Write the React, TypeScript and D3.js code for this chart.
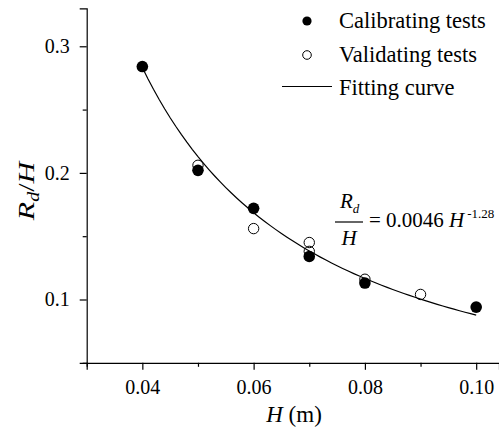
import React, { useEffect, useRef } from 'react';
import * as d3 from 'd3';

// Calibrating tests (filled)
const calibH = [0.04, 0.05, 0.06, 0.07, 0.08, 0.10];
const calibR = [0.284, 0.202, 0.172, 0.134, 0.113, 0.094];
// Validating tests (open)
const validH = [0.05, 0.06, 0.07, 0.07, 0.08, 0.09];
const validR = [0.206, 0.156, 0.145, 0.138, 0.116, 0.104];
// Fitting curve: Rd/H = 0.0046 H^-1.28
const fitCoef = 0.0046;
const fitExp = -1.28;
const fitRange = [0.04, 0.10];

const xMajor = [0.04, 0.06, 0.08, 0.10];
const xMinor = [0.03, 0.05, 0.07, 0.09];
const yMajor = [0.1, 0.2, 0.3];
const yMinor = [0.05, 0.15, 0.25];

const legendItems = ['Calibrating tests', 'Validating tests', 'Fitting curve'];

const FONT = '"Liberation Serif", "Times New Roman", serif';

const App = () => {
  const svgRef = useRef<SVGSVGElement>(null);

  useEffect(() => {
    const svg = d3.select(svgRef.current);
    svg.selectAll('*').remove();

    const x = d3.scaleLinear().domain([0.03, 0.1041]).range([86.7, 499]);
    const y = d3.scaleLinear().domain([0.05, 0.33]).range([362.8, 8.3]);

    // axes
    const xAxis = svg.append('g').attr('transform', `translate(0,${y(0.05)})`);
    xAxis.call(d3.axisBottom(x).tickValues(xMajor).tickSize(7).tickFormat(d3.format('.2f')) as any);
    const xMin = svg.append('g').attr('transform', `translate(0,${y(0.05)})`);
    xMin.call(d3.axisBottom(x).tickValues(xMinor).tickSize(4).tickFormat(() => '') as any);
    xMin.select('.domain').remove();

    const yAxis = svg.append('g').attr('transform', `translate(${x(0.03)},0)`);
    yAxis.call(d3.axisLeft(y).tickValues(yMajor).tickSize(7).tickFormat(d3.format('.1f')) as any);
    const yMin = svg.append('g').attr('transform', `translate(${x(0.03)},0)`);
    yMin.call(d3.axisLeft(y).tickValues(yMinor).tickSize(4).tickFormat(() => '') as any);
    yMin.select('.domain').remove();

    svg.selectAll('.domain').attr('stroke', '#000').attr('stroke-width', 1.2);
    svg.selectAll('.tick line').attr('stroke', '#000').attr('stroke-width', 1.2);
    svg
      .selectAll('.tick text')
      .attr('font-family', FONT)
      .attr('font-size', 20)
      .attr('fill', '#000');
    xAxis.selectAll('.tick text').attr('dy', '1.05em');
    yAxis.selectAll('.tick text').attr('dx', '-0.35em');

    // axis titles
    const xt = svg
      .append('text')
      .attr('x', 294)
      .attr('y', 421.7)
      .attr('text-anchor', 'middle')
      .attr('font-family', FONT)
      .attr('font-size', 23);
    xt.append('tspan').attr('font-style', 'italic').text('H');
    xt.append('tspan').text(' (m)');

    const yt = svg
      .append('text')
      .attr('transform', 'translate(34,191) rotate(-90) scale(1.25,1)')
      .attr('text-anchor', 'middle')
      .attr('font-family', FONT)
      .attr('font-size', 24)
      .attr('font-style', 'italic');
    yt.append('tspan').text('R');
    yt.append('tspan').attr('font-size', 16).attr('dy', 5).text('d');
    yt.append('tspan').attr('dy', -5).attr('font-style', 'normal').text('/');
    yt.append('tspan').text('H');

    // fitting curve
    const curveX = d3.range(fitRange[0], fitRange[1] + 1e-9, 0.001);
    svg
      .append('path')
      .datum(curveX)
      .attr('fill', 'none')
      .attr('stroke', '#000')
      .attr('stroke-width', 1.2)
      .attr(
        'd',
        d3
          .line<number>()
          .x((d) => x(d))
          .y((d) => y(fitCoef * Math.pow(d, fitExp)))
      );

    // calibrating (filled)
    svg
      .append('g')
      .selectAll('circle')
      .data(calibH)
      .enter()
      .append('circle')
      .attr('cx', (d) => x(d))
      .attr('cy', (d, i) => y(calibR[i]))
      .attr('r', 5.8)
      .attr('fill', '#000');

    // validating (open)
    svg
      .append('g')
      .selectAll('circle')
      .data(validH)
      .enter()
      .append('circle')
      .attr('cx', (d) => x(d))
      .attr('cy', (d, i) => y(validR[i]))
      .attr('r', 5.2)
      .attr('fill', 'none')
      .attr('stroke', '#000')
      .attr('stroke-width', 1);

    // legend
    const lg = svg.append('g');
    lg.append('circle').attr('cx', 307).attr('cy', 21).attr('r', 4.6).attr('fill', '#000');
    lg.append('circle')
      .attr('cx', 307)
      .attr('cy', 55)
      .attr('r', 4.3)
      .attr('fill', 'none')
      .attr('stroke', '#000');
    lg.append('line')
      .attr('x1', 282)
      .attr('x2', 332)
      .attr('y1', 86.5)
      .attr('y2', 86.5)
      .attr('stroke', '#000')
      .attr('stroke-width', 1.2);
    legendItems.forEach((t, i) => {
      lg.append('text')
        .attr('x', 339)
        .attr('y', 28 + i * 33.5)
        .attr('font-family', FONT)
        .attr('font-size', 22.5)
        .text(t);
    });

    // equation
    const eq = svg.append('g').attr('font-family', FONT).attr('font-size', 21);
    const num = eq.append('text').attr('x', 340).attr('y', 208).attr('font-style', 'italic');
    num.append('tspan').text('R');
    num.append('tspan').attr('font-size', 13).attr('dy', 5).text('d');
    eq.append('line')
      .attr('x1', 335)
      .attr('x2', 363)
      .attr('y1', 222)
      .attr('y2', 222)
      .attr('stroke', '#000')
      .attr('stroke-width', 1.2);
    eq.append('text')
      .attr('x', 349)
      .attr('y', 245)
      .attr('text-anchor', 'middle')
      .attr('font-style', 'italic')
      .text('H');
    const rhs = eq.append('text').attr('x', 369).attr('y', 227);
    rhs.append('tspan').text('= 0.0046 ');
    rhs.append('tspan').attr('font-style', 'italic').text('H');
    rhs.append('tspan').attr('font-size', 13).attr('dx', 3).attr('dy', -9).text('-1.28');
  }, []);

  return (
    <svg
      ref={svgRef}
      width={499}
      height={429}
      style={{ position: 'absolute', left: 0, top: 0, background: '#fff' }}
    ></svg>
  );
};

export default App;
